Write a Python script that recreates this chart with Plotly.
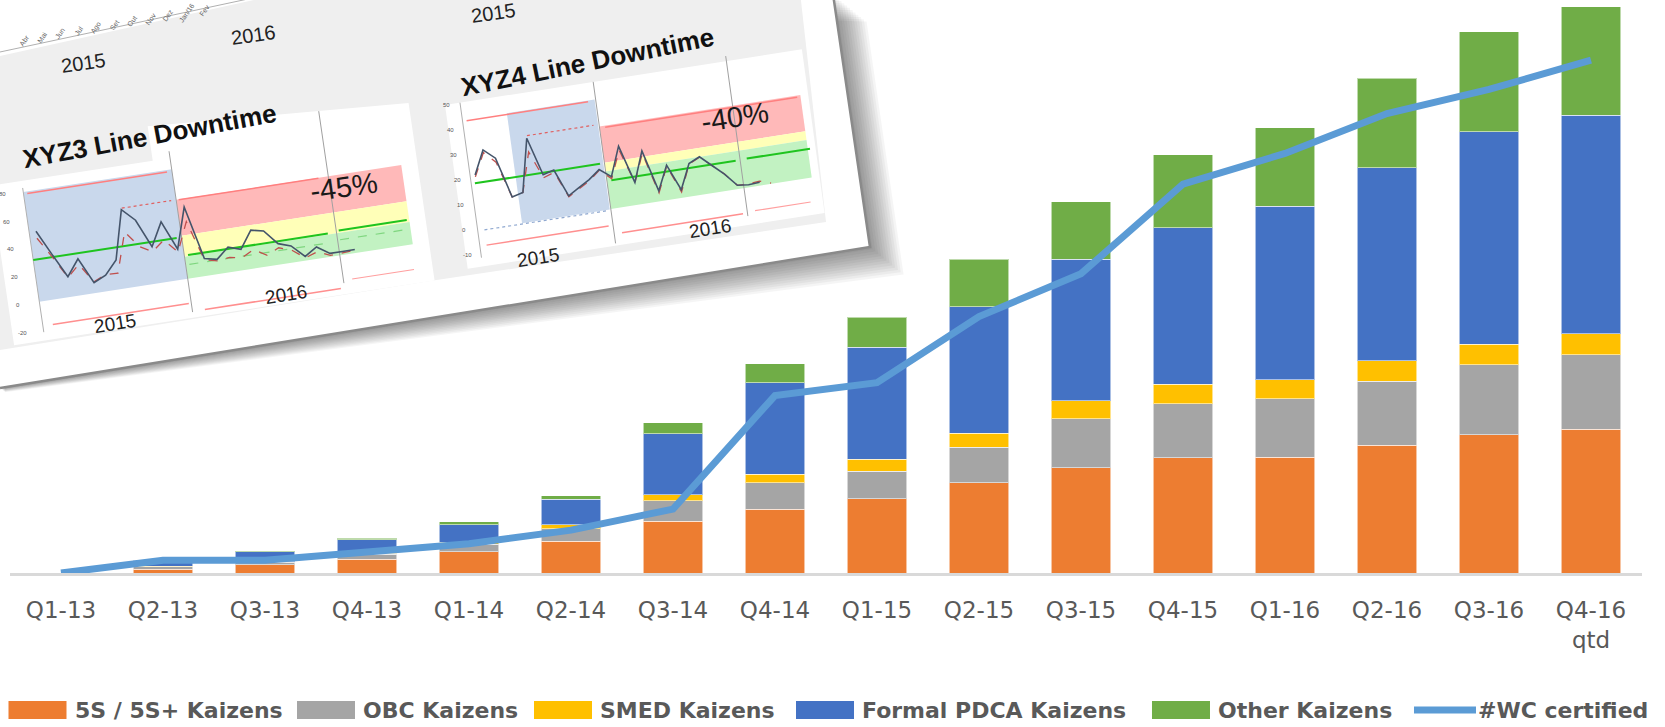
import plotly.graph_objects as go

# ---------------- main chart data ----------------
quarters = ["Q1-13", "Q2-13", "Q3-13", "Q4-13", "Q1-14", "Q2-14", "Q3-14", "Q4-14",
            "Q1-15", "Q2-15", "Q3-15", "Q4-15", "Q1-16", "Q2-16", "Q3-16", "Q4-16"]
tick_labels = quarters[:-1] + ["Q4-16<br>qtd"]

kaizen_5s = [0, 5, 11, 18, 28, 42, 69, 85, 99, 120, 140, 153, 154, 170, 184, 191]
kaizen_obc = [0, 3, 3, 7, 10, 17, 27, 35, 36, 47, 65, 72, 78, 85, 93, 99]
kaizen_smed = [0, 1, 1, 1, 3, 5, 8, 11, 16, 19, 24, 26, 25, 27, 27, 28]
kaizen_pdca = [0, 8, 13, 18, 23, 34, 81, 122, 149, 168, 188, 208, 231, 257, 283, 291]
kaizen_other = [0, 0, 1, 2, 4, 5, 15, 25, 40, 63, 77, 97, 104, 119, 133, 144]
wc_certified = [0, 17, 17, 28, 39, 57, 85, 236, 253, 341, 398, 517, 558, 611, 643, 682]

series_names = ["5S / 5S+ Kaizens", "OBC Kaizens", "SMED Kaizens", "Formal PDCA Kaizens", "Other Kaizens"]
series_values = [kaizen_5s, kaizen_obc, kaizen_smed, kaizen_pdca, kaizen_other]
series_colors = ["#ED7D31", "#A5A5A5", "#FFC000", "#4472C4", "#70AD47"]
line_name = "#WC certified"
line_color = "#5B9BD5"

# ---------------- inset (photo of downtime charts) data ----------------
xyz3_actual = [50, 32, 14.5, 26, 7.5, 11.5, 21, 56, 47, 26.5, 43, 22, 51, 12.5, 10.5, 18, 15,
               27.5, 25.5, 15, 12, 3, 8.5, 2.5, 2.5, 2.5]
xyz3_adjusted = [45, 30, 14, 22, 8, 12, 11.5, 40, 28, 23, 30, 20, 40.5, 11.5, 9.5, 10.5, 9,
                 13.5, 8, 12, 9, 2, 5, 1, 1.5, 2]
xyz4_actual = [20.8, 30.1, 26.1, 9.9, 11.0, 32.0, 16.7, 17.9, 6.9, 9.5, 12.0, 15.3, 11.8, 23.3,
               8.1, 20.0, 3.3, 12.9, 2.4, 12.2, 14.2, 10.0, 5.9, 0.7, 0.2, 0.5]
xyz4_adjusted = [20, 29, 24.5, 9.9, 11, 26.5, 15.5, 17, 6.5, 9, 11.5, 15, 11, 21.7, 8, 19, 2.5,
                 12.5, 1.5, 12, 14, 10, 5.9, 0.7, 0.5, 1, -0.5]
month_labels = ["Abr", "Mai", "Jun", "Jul", "Ago", "Set", "Out", "Nov", "Dez", "Jan/16", "Fev"]

# ---------------- figure geometry ----------------
W, H = 1665, 727
L, R, T, B = 10, 23, 0, 154
PW, PH = W - L - R, H - T - B
YMAX = 762


def PX(x):
    return (x - L) / PW


def PY(y):
    return (T + PH - y) / PH


fig = go.Figure()
for name, vals, col in zip(series_names, series_values, series_colors):
    fig.add_bar(x=quarters, y=vals, name=name, showlegend=False,
                marker=dict(color=col, line=dict(color="rgba(255,255,255,0.55)", width=1)))
fig.add_scatter(x=quarters, y=wc_certified, mode="lines", name=line_name, showlegend=False,
                line=dict(color=line_color, width=7))

shapes = []
annots = []


def path_of(pts, close=True):
    s = "M " + " L ".join(f"{PX(x):.5f},{PY(y):.5f}" for x, y in pts)
    return s + (" Z" if close else "")


def poly(pts, fill, line_color=None, lw=0, opacity=1.0):
    shapes.append(dict(type="path", xref="paper", yref="paper", path=path_of(pts),
                       fillcolor=fill, opacity=opacity,
                       line=dict(color=line_color or "rgba(0,0,0,0)", width=lw)))


def pline(pts, color, width=1.5, dash="solid"):
    shapes.append(dict(type="path", xref="paper", yref="paper", path=path_of(pts, close=False),
                       line=dict(color=color, width=width, dash=dash)))


def text(x, y, s, size, color="#222", angle=0, bold=False, family="Liberation Sans", xanchor="center"):
    annots.append(dict(x=PX(x), y=PY(y), xref="paper", yref="paper", text=f"<b>{s}</b>" if bold else s,
                       showarrow=False, textangle=angle, xanchor=xanchor, yanchor="middle",
                       font=dict(size=size, color=color, family=family)))


# ---------------- inset card ----------------
card = [(0, -6), (833, -6), (870, 247), (0, 388)]
shadow_scale = [0.0, 1.0, 1.0, 0.15]
for k in range(1, 13):
    pts = []
    for (x, y), s in zip(card, shadow_scale):
        pts.append((x + 2.8 * k * s, y + 2.3 * k * s))
    poly(pts, "rgba(0,0,0,0.04)")
poly(card, "#FFFFFF")
pline([(833, -6), (870, 247), (0, 388)], "#8A8A8A", 2.5)

# gray panel
poly([(0, 56), (290, -8), (800, -8), (826, 222), (430, 281), (0, 350)], "#EFEFEF")
pline([(0, 52), (290, -10)], "#B0B0B0", 1)
for k, lab in enumerate(month_labels):
    text(24 + 18.0 * k, 40 - 3.0 * k, lab, 7, "#666", angle=-55)


def frame(O, ex, ey):
    def f(m, v):
        return (O[0] + m * ex[0] + v * ey[0], O[1] + m * ex[1] + v * ey[1])
    return f


def rect(f, m0, m1, v0, v1):
    return [f(m0, v0), f(m1, v0), f(m1, v1), f(m0, v1)]


def hline(f, m0, m1, v, color, width=1.5, dash="solid"):
    pline([f(m0, v), f(m1, v)], color, width, dash)


RED_BAND, YEL_BAND, GRN_BAND, BLUE_REG = "#FFB9B9", "#FFFFB8", "#C2F2C2", "#C9D8EC"

# chart XYZ3
f1 = frame((39.33, 301.67), (12.367, -1.9045), (-0.2033, -1.3867))
poly([f1(-2.5, -28), f1(31.5, -28), f1(31.5, 100), f1(10.6, 112), f1(10.6, 87), f1(-2.5, 87)], "#FFFFFF")
poly(rect(f1, 0, 12, 0, 79), BLUE_REG)
poly(rect(f1, 12, 30.2, 31, 57), RED_BAND)
poly(rect(f1, 12, 30.2, 16, 31), YEL_BAND)
poly(rect(f1, 12, 30.2, 0, 16), GRN_BAND)
pline([f1(0, -22), f1(0, 82)], "#B0B0B0", 1)
pline([f1(12, -24), f1(12, 92)], "#A0A0A0", 1)
pline([f1(24.3, -20), f1(24.3, 104)], "#A0A0A0", 1)
for v in range(-20, 81, 20):
    text(*f1(-1.7, v), str(v), 6, "#555")
hline(f1, 0.3, 11.6, 77.6, "#FF7F7F", 1.5)
hline(f1, 12.2, 23.5, 56.7, "#FF7F7F", 1.5)
hline(f1, 7.6, 11.6, 57, "#E06060", 1.2, "dot")
hline(f1, 0.8, 11.8, -17.6, "#FF8F8F", 1.5)
hline(f1, 13, 24, -23.5, "#FF8F8F", 1.5)
hline(f1, 25, 30, -18, "#FF9F9F", 1.2)
hline(f1, 12.3, 23.6, 10, "#7FD67F", 1.2, "dash")
hline(f1, 24.5, 30, 11, "#7FD67F", 1.2, "dash")
hline(f1, 0, 11.6, 30, "#1FC41F", 2)
hline(f1, 12.3, 23.6, 16.7, "#1FC41F", 2)
hline(f1, 24.5, 30, 17.7, "#1FC41F", 2)
pline([f1(i + 0.55, v) for i, v in enumerate(xyz3_adjusted)], "#C0504D", 1.3, "dash")
pline([f1(i + 0.55, v) for i, v in enumerate(xyz3_actual)], "#44546A", 1.6)
text(*f1(5.7, -23.5), "2015", 19, angle=-9)
text(*f1(19.6, -22.1), "2016", 19, angle=-9)
text(*f1(25.4, 48.1), "-45%", 29, "#1A1A1A", angle=-8)

# chart XYZ4
f2 = frame((477.33, 227.67), (11.1, -1.732), (-0.3467, -2.5))
poly(rect(f2, -1.35, 30.8, -15.5, 50), "#FFFFFF")
poly(rect(f2, 4.0, 11.9, -1, 43), BLUE_REG)
poly(rect(f2, 12, 30.1, 17.7, 32.2), RED_BAND)
poly(rect(f2, 12, 30.1, 14.2, 17.7), YEL_BAND)
poly(rect(f2, 12, 30.1, -0.8, 14.2), GRN_BAND)
pline([f2(0, -12), f2(0, 50)], "#B0B0B0", 1)
pline([f2(12, -14.6), f2(12, 50)], "#A0A0A0", 1)
pline([f2(24, -12), f2(24, 52)], "#A0A0A0", 1)
for v in range(-10, 51, 10):
    text(*f2(-1.2, v), str(v), 6, "#555")
hline(f2, 0.36, 11.3, 42.5, "#FF7F7F", 1.5)
hline(f2, 5.5, 11.5, 33, "#E06060", 1.2, "dot")
hline(f2, 12.5, 29.8, 31.5, "#FF7F7F", 1.5)
hline(f2, 0.6, 11.6, -7.4, "#FF8F8F", 1.5)
hline(f2, 12.7, 23.6, -10.8, "#FF8F8F", 1.5)
hline(f2, 24.7, 29.7, -10.3, "#FF9F9F", 1.2)
hline(f2, 0.6, 11.6, -1.3, "#8FA8D0", 1.2, "dot")
hline(f2, 0.33, 11.6, 17.5, "#1FC41F", 2)
hline(f2, 12.4, 23.6, 10.4, "#1FC41F", 2)
hline(f2, 24.6, 30.3, 10.6, "#1FC41F", 2)
pline([f2(i + 0.45, v) for i, v in enumerate(xyz4_adjusted)], "#C0504D", 1.3, "dash")
pline([f2(i + 0.45, v) for i, v in enumerate(xyz4_actual)], "#44546A", 1.6)
text(*f2(5.0, -15.2), "2015", 19, angle=-9)
text(*f2(20.5, -14.4), "2016", 19, angle=-9)
text(*f2(24.1, 27.7), "-40%", 29, "#1A1A1A", angle=-9)

# titles & year labels of the photographed dashboard
text(149, 136, "XYZ3 Line Downtime", 26, "#111", angle=-10.5, bold=True)
text(587, 62, "XYZ4 Line Downtime", 26, "#111", angle=-11.5, bold=True)
text(83, 63, "2015", 20, angle=-8)
text(253, 35, "2016", 20, angle=-8)
text(493, 13, "2015", 20, angle=-8)

# ---------------- custom legend ----------------
leg_y = 710
key_x = [8.5, 297, 534, 796, 1152]
for kx, name, col in zip(key_x, series_names, series_colors):
    poly([(kx, leg_y - 9), (kx + 58, leg_y - 9), (kx + 58, leg_y + 9), (kx, leg_y + 9)], col)
    text(kx + 64, leg_y, name, 22, "#595959", bold=True, family="DejaVu Sans", xanchor="left")
pline([(1414, leg_y), (1476, leg_y)], line_color, 7)
text(1476, leg_y, line_name, 22, "#595959", bold=True, family="DejaVu Sans", xanchor="left")

fig.update_layout(
    width=W, height=H,
    margin=dict(l=L, r=R, t=T, b=B, autoexpand=False),
    barmode="stack", bargap=0.42,
    paper_bgcolor="#FFFFFF", plot_bgcolor="rgba(0,0,0,0)",
    showlegend=False,
    xaxis=dict(tickvals=quarters, ticktext=tick_labels, showgrid=False, zeroline=False,
               showline=True, linecolor="#D9D9D9", linewidth=3,
               ticks="outside", ticklen=14, tickcolor="rgba(0,0,0,0)",
               tickfont=dict(family="DejaVu Sans", size=23, color="#595959")),
    yaxis=dict(visible=False, range=[0, YMAX]),
    shapes=shapes, annotations=annots,
)
fig.write_html("out.html", config={"displayModeBar": False},
               post_script="document.body.style.margin='0px';document.body.style.overflow='hidden';")
